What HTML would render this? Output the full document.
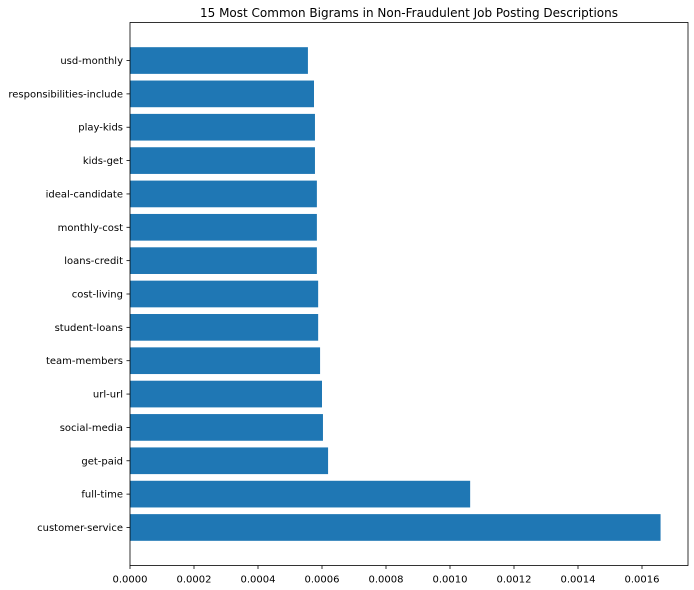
<!DOCTYPE html>
<html><head><meta charset="utf-8"><style>
html,body{margin:0;padding:0;background:#fff;}
svg{display:block;font-family:"DejaVu Sans","Liberation Sans",sans-serif;}
</style></head><body>
<svg id="chart" width="694" height="590"></svg>
<script>
const categories = ["customer-service","full-time","get-paid","social-media","url-url","team-members","student-loans","cost-living","loans-credit","monthly-cost","ideal-candidate","kids-get","play-kids","responsibilities-include","usd-monthly"];
const values = [0.001658,0.001063,0.000619,0.000603,0.0006,0.000594,0.000588,0.000588,0.000584,0.000584,0.000584,0.000578,0.000578,0.000575,0.000556];
const xTicks = [0,0.0002,0.0004,0.0006,0.0008,0.0010,0.0012,0.0014,0.0016];
const xTickLabels = ["0.0000","0.0002","0.0004","0.0006","0.0008","0.0010","0.0012","0.0014","0.0016"];

const NS="http://www.w3.org/2000/svg";
const svg=document.getElementById('chart');
const L=130,R=688,T=22.5,B=565.5;
const xMax=(R-L)/320000;
const n=categories.length;
const yMin=-1.14,yMax=n-1+1.14;
function x(v){return L+v/xMax*(R-L);}
function y(i){return B-(i-yMin)/(yMax-yMin)*(B-T);}
const pitch=(B-T)/(yMax-yMin);
function mk(tag,attrs){const e=document.createElementNS(NS,tag);for(const k in attrs)e.setAttribute(k,attrs[k]);svg.appendChild(e);return e;}

categories.forEach((c,i)=>{
  const r=mk('rect',{x:x(0),y:y(i)-pitch*0.4,width:x(values[i])-x(0),height:pitch*0.8,fill:'#1f77b4'});
  
  
  const tk=mk('line',{x1:L-3.5,x2:L,y1:y(i),y2:y(i),stroke:'#000','stroke-width':0.8});
  
  
  const t=mk('text',{x:L-7,y:y(i)+3.5,'text-anchor':'end','font-size':10,fill:'#000'});
  t.textContent=c;
  
  
});
xTicks.forEach((v,i)=>{
  const tk=mk('line',{x1:x(v),x2:x(v),y1:B,y2:B+3.5,stroke:'#000','stroke-width':0.8});
  
  
  const t=mk('text',{x:x(v),y:B+17,'text-anchor':'middle','font-size':10,fill:'#000'});
  t.textContent=xTickLabels[i];
  
  
});
const frame=mk('rect',{x:L,y:T,width:R-L,height:B-T,fill:'none',stroke:'#000','stroke-width':0.8});


const title=mk('text',{x:(L+R)/2,y:17,'text-anchor':'middle','font-size':12,fill:'#000'});
title.textContent='15 Most Common Bigrams in Non-Fraudulent Job Posting Descriptions';


</script>
</body></html>
